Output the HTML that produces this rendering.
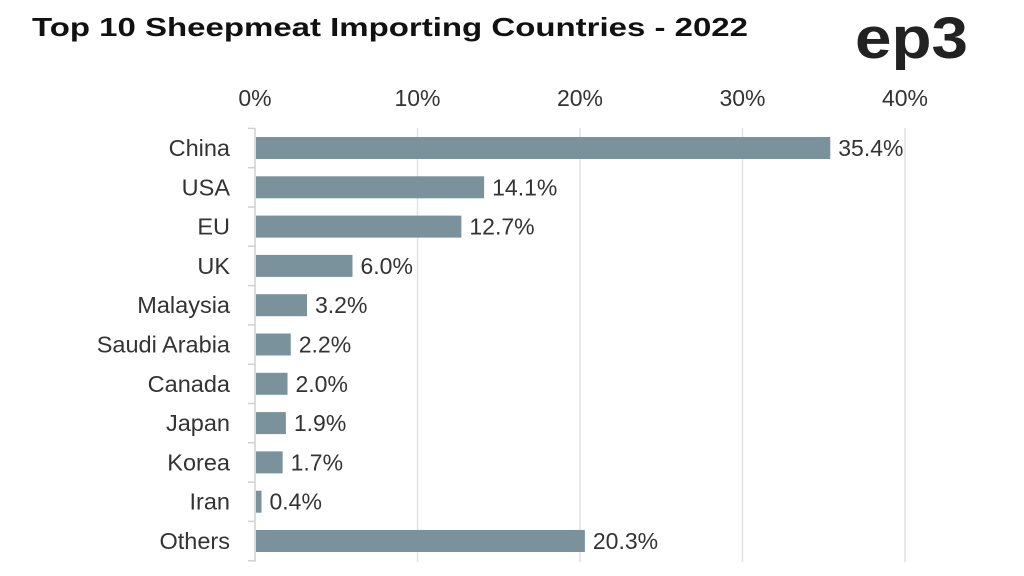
<!DOCTYPE html>
<html><head><meta charset="utf-8"><style>
body{margin:0;background:#fff;width:1024px;height:571px;overflow:hidden;font-family:"Liberation Sans",sans-serif}
</style></head><body>
<svg width="1024" height="571">
<text x="32" y="36" font-size="26" font-weight="bold" fill="#111" textLength="716" lengthAdjust="spacingAndGlyphs">Top 10 Sheepmeat Importing Countries - 2022</text>
<text x="855" y="58" font-size="58" font-weight="bold" fill="#222" textLength="113" lengthAdjust="spacingAndGlyphs">ep3</text>
<g id="grid"></g><g id="bars"></g>
</svg>
<script>
const categories=["China","USA","EU","UK","Malaysia","Saudi Arabia","Canada","Japan","Korea","Iran","Others"];
const values=[35.4,14.1,12.7,6.0,3.2,2.2,2.0,1.9,1.7,0.4,20.3];
const ticks=[0,10,20,30,40];
const NS="http://www.w3.org/2000/svg";
const x=v=>255+v*16.25, y=i=>148+i*39.3;
function mk(t,a,p){const e=document.createElementNS(NS,t);for(const k in a)e.setAttribute(k,a[k]);p.appendChild(e);return e;}
const g=document.getElementById('grid'),b=document.getElementById('bars');
ticks.forEach(t=>{
 if(t>0){const l=mk('line',{x1:x(t),x2:x(t),y1:128,y2:562,stroke:'#e2e2e2','stroke-width':1.5},g);
 
 }
 const tx=mk('text',{x:x(t),y:106,'text-anchor':'middle','font-size':23,fill:'#333'},g);tx.textContent=t+'%';
 
 
});
const ax=mk('line',{x1:255,x2:255,y1:128,y2:562,stroke:'#d0d0d0','stroke-width':1.5},g);


for(let i=0;i<=categories.length;i++){const tk=mk('line',{x1:248,x2:255,y1:y(i)-19.6,y2:y(i)-19.6,stroke:'#d0d0d0','stroke-width':1.5},g);
 
 }
categories.forEach((c,i)=>{
 const r=mk('rect',{x:256,y:y(i)-11,width:x(values[i])-256,height:22,fill:'#7a929b'},b);
 
 
 const l=mk('text',{x:230,y:y(i)+8,'text-anchor':'end','font-size':23.5,fill:'#333'},b);l.textContent=c;
 
 
 const v=mk('text',{x:x(values[i])+8,y:y(i)+8,'font-size':23,fill:'#333'},b);v.textContent=values[i].toFixed(1)+'%';
 
 
});
</script>
</body></html>
